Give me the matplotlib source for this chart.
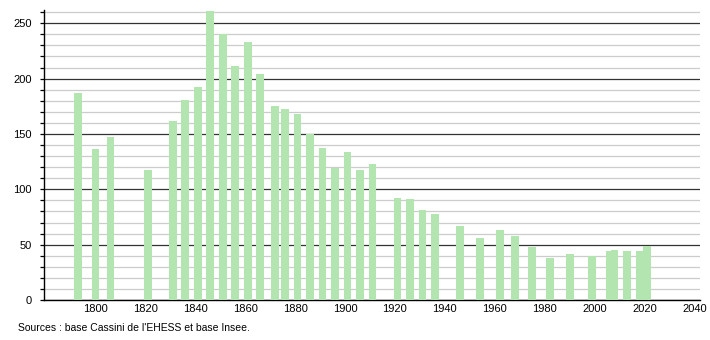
import matplotlib
matplotlib.use('Agg')
import matplotlib.pyplot as plt
from matplotlib.ticker import MultipleLocator

plt.rcParams['font.family'] = ['Liberation Sans', 'DejaVu Sans']

# census years and population
years = [1793, 1800, 1806, 1821, 1831, 1836, 1841, 1846, 1851, 1856,
         1861, 1866, 1872, 1876, 1881, 1886, 1891, 1896, 1901, 1906,
         1911, 1921, 1926, 1931, 1936, 1946, 1954, 1962, 1968, 1975,
         1982, 1990, 1999, 2006, 2008, 2013, 2018, 2021]
population = [187, 136, 147, 117, 162, 181, 192, 261, 240, 211,
              233, 204, 175, 173, 168, 150, 137, 119, 134, 117,
              123, 92, 91, 81, 78, 67, 56, 63, 58, 48,
              38, 42, 40, 44, 45, 44, 44, 49]
xticks = list(range(1800, 2041, 20))
source = "Sources : base Cassini de l'EHESS et base Insee."

fig = plt.figure(figsize=(7.1, 3.4), dpi=100)
ax = fig.add_axes([44 / 710, 1 - 300 / 340, 656 / 710, 290 / 340])

ax.bar(years, population, width=3.1, color='#b2e5b0', zorder=3)

ax.set_xlim(1779.4, 2042.2)
ax.set_ylim(0, 262)

ax.yaxis.set_major_locator(MultipleLocator(50))
ax.yaxis.set_minor_locator(MultipleLocator(10))
ax.grid(axis='y', which='major', color='#333333', linewidth=0.9, zorder=1)
ax.grid(axis='y', which='minor', color='#cccccc', linewidth=0.9, zorder=0)
ax.set_axisbelow(True)

ax.set_xticks(xticks)
ax.tick_params(axis='x', length=0, labelsize=8, pad=3)
ax.tick_params(axis='y', which='major', length=3, width=0.9, labelsize=8, pad=6)
ax.tick_params(axis='y', which='minor', length=3, width=0.9)

for side in ('top', 'right'):
    ax.spines[side].set_visible(False)
for side in ('left', 'bottom'):
    ax.spines[side].set_color('black')
    ax.spines[side].set_linewidth(1.0)

fig.text(18 / 710, 1 - 328 / 340, source, fontsize=7.5, va='center', ha='left')

fig.savefig('out.png', dpi=100)
